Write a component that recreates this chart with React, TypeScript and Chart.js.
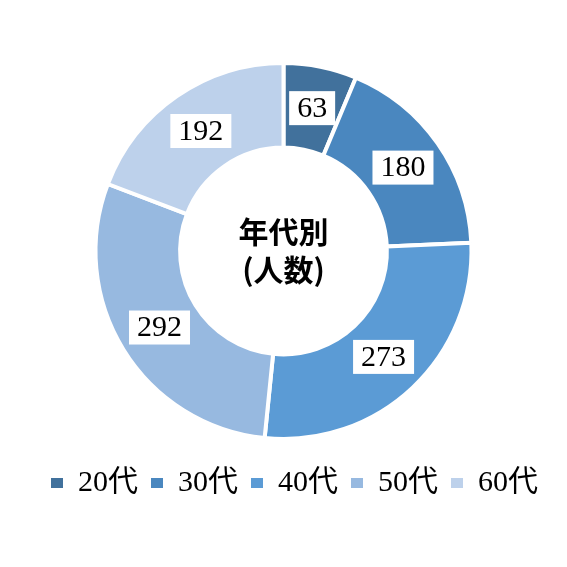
import React, { useEffect, useRef } from "react";
import { Chart, registerables } from "chart.js";

Chart.register(...registerables);

const categories = ["20代", "30代", "40代", "50代", "60代"];
const counts = [63, 180, 273, 292, 192];
const colors = ["#41719C", "#4A87BF", "#5B9BD5", "#97B9E0", "#BDD1EB"];
const centerLines = ["年代別", "(人数)"];

const SERIF = '"Liberation Serif", "Times New Roman", "Noto Sans CJK JP", serif';
const SANS = '"Noto Sans CJK JP", "DejaVu Sans", sans-serif';

const labelPlugin = {
  id: "boxLabels",
  afterLayout(chart: any) {
    if (chart.legend) {
      chart.legend.left += 22;
    }
  },
  afterDatasetsDraw(chart: any) {
    const ctx = chart.ctx;
    const meta = chart.getDatasetMeta(0);
    const data = chart.data.datasets[0].data;
    ctx.save();
    ctx.font = `30px ${SERIF}`;
    ctx.textAlign = "center";
    ctx.textBaseline = "middle";
    meta.data.forEach((arc: any, i: number) => {
      const p = arc.tooltipPosition();
      const text = String(data[i]);
      const w = ctx.measureText(text).width + 16;
      const h = 34;
      ctx.fillStyle = "#FFFFFF";
      ctx.fillRect(p.x - w / 2, p.y - h / 2, w, h);
      ctx.fillStyle = "#000000";
      ctx.fillText(text, p.x, p.y + 1);
    });
    const cx = (chart.chartArea.left + chart.chartArea.right) / 2;
    const cy = (chart.chartArea.top + chart.chartArea.bottom) / 2;
    ctx.font = `bold 30px ${SANS}`;
    ctx.fillStyle = "#000000";
    ctx.fillText(centerLines[0], cx, cy - 19);
    ctx.fillText(centerLines[1], cx, cy + 19);
    ctx.restore();
  },
};

export default function App() {
  const ref = useRef<HTMLCanvasElement | null>(null);
  useEffect(() => {
    if (!ref.current) return;
    const chart = new Chart(ref.current, {
      type: "doughnut",
      data: {
        labels: categories,
        datasets: [
          {
            data: counts,
            backgroundColor: colors,
            borderColor: "#FFFFFF",
            borderWidth: 4,
          },
        ],
      },
      options: {
        responsive: false,
        animation: false,
        radius: 188,
        cutout: "55%",
        layout: { padding: { top: 47, bottom: 59, left: 0, right: 0 } },
        plugins: {
          tooltip: { enabled: false },
          legend: {
            display: true,
            position: "bottom",
            labels: {
              boxWidth: 12,
              boxHeight: 10,
              padding: 13,
              color: "#000000",
              font: { size: 30, family: SERIF },
              generateLabels(chart: any) {
                return chart.data.labels.map((l: string, i: number) => ({
                  text: l,
                  fillStyle: colors[i],
                  strokeStyle: colors[i],
                  lineWidth: 0,
                  fontColor: "#000000",
                  hidden: false,
                  index: i,
                }));
              },
            },
          },
        },
      } as any,
      plugins: [labelPlugin],
    });
    return () => chart.destroy();
  }, []);
  return (
    <div style={{ position: "fixed", left: 0, top: 0, width: 567, height: 567, background: "#FFFFFF" }}>
      <canvas ref={ref} width={567} height={567} style={{ width: 567, height: 567 }} />
    </div>
  );
}
